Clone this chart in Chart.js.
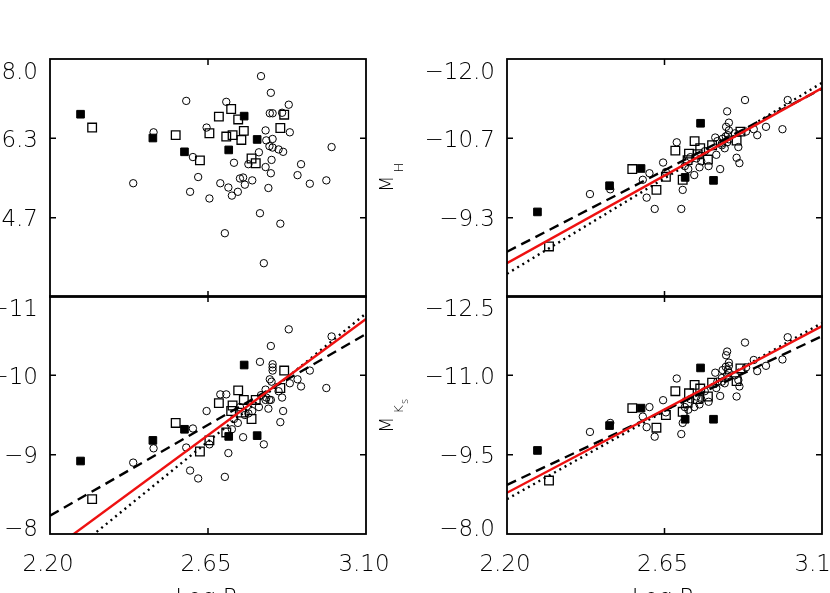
<!DOCTYPE html>
<html>
<head>
<meta charset="utf-8">
<script src="https://cdn.jsdelivr.net/npm/chart.js@4"></script>
<style>
  html, body { margin: 0; padding: 0; background: #fff; }
  #wrap { position: relative; width: 830px; height: 593px; overflow: hidden; background: #fff; }
  #wrap canvas { position: absolute; left: 0; top: 0; }
</style>
</head>
<body>
<div id="wrap">
  <canvas id="tl" width="830" height="593"></canvas>
  <canvas id="tr" width="830" height="593"></canvas>
  <canvas id="bl" width="830" height="593"></canvas>
  <canvas id="br" width="830" height="593"></canvas>
</div>
<script>
// star data: log P, marker kind (c = open circle, s = open square, f = filled square)
const logP = [
  2.287, 2.320, 2.437, 2.493, 2.495, 2.558, 2.583, 2.588, 2.599, 2.607,
  2.622, 2.627, 2.646, 2.654, 2.654, 2.681, 2.685, 2.698, 2.702, 2.702,
  2.708, 2.709, 2.716, 2.718, 2.720, 2.724, 2.735, 2.736, 2.741, 2.745,
  2.750, 2.752, 2.753, 2.755, 2.765, 2.774, 2.776, 2.786, 2.790, 2.795,
  2.798, 2.801, 2.809, 2.814, 2.814, 2.816, 2.822, 2.825, 2.826, 2.829,
  2.829, 2.831, 2.834, 2.834, 2.834, 2.851, 2.856, 2.856, 2.861, 2.864,
  2.867, 2.880, 2.883, 2.905, 2.915, 2.940, 2.987, 3.002
];
const kind = [
  'f','s','c','f','c','s','f','c','c','c',
  'c','s','c','s','c','s','c','c','s','c',
  'c','f','s','c','s','c','c','s','c','s',
  'c','s','f','c','c','s','c','s','f','c',
  'c','c','c','c','c','c','c','c','c','c',
  'c','c','c','c','c','c','s','c','c','c',
  's','c','c','c','c','c','c','c'
];
// top-left panel values
const tlY = [
  6.84, 6.56, 5.39, 6.34, 6.46, 6.40, 6.05, 7.12, 5.21, 5.94,
  5.52, 5.87, 6.56, 6.44, 5.07, 6.79, 5.39, 4.34, 6.37, 7.10,
  5.30, 6.09, 6.95, 5.13, 6.40, 5.82, 5.21, 6.73, 5.49, 6.30,
  5.51, 6.49, 6.80, 5.36, 5.79, 5.91, 5.45, 5.81, 6.31, 6.04,
  4.76, 7.64, 3.71, 6.50, 5.73, 6.29, 5.29, 6.17, 6.86, 7.29,
  5.60, 5.88, 6.86, 6.32, 6.14, 6.10, 6.55, 4.54, 6.87, 6.05,
  6.83, 7.04, 6.46, 5.56, 5.79, 5.38, 5.45, 6.15
];
// M_H
const mH = [
  -9.43, -8.85, -9.73, -9.87, -9.81, -10.15, -10.16, -9.97, -9.67, -10.08,
  -9.48, -9.80, -10.26, -10.02, -10.10, -10.46, -10.60, -9.48, -9.97, -9.80,
  -10.20, -10.01, -10.30, -10.15, -10.41, -10.35, -10.05, -10.62, -10.33, -10.40,
  -10.18, -10.50, -10.92, -10.28, -10.45, -10.31, -10.20, -10.55, -9.96, -10.68,
  -10.39, -10.62, -10.15, -10.58, -10.55, -10.66, -10.50, -10.70, -10.86, -11.12,
  -10.60, -10.72, -10.93, -10.80, -10.65, -10.75, -10.63, -10.34, -10.52, -10.25,
  -10.78, -11.31, -10.78, -10.82, -10.72, -10.86, -10.82, -11.31
];
// bottom-left panel values
const blY = [
  -8.92, -8.44, -8.90, -9.18, -9.08, -9.40, -9.32, -9.09, -8.80, -9.33,
  -8.70, -9.04, -9.55, -9.18, -9.13, -9.65, -9.76, -8.72, -9.28, -9.76,
  -9.02, -9.23, -9.55, -9.32, -9.62, -9.45, -9.40, -9.81, -9.60, -9.53,
  -9.22, -9.69, -10.13, -9.50, -9.52, -9.45, -9.55, -9.69, -9.24, -9.60,
  -10.17, -9.75, -9.13, -9.82, -9.69, -9.72, -9.58, -9.69, -9.95, -10.37,
  -9.69, -9.92, -10.14, -10.10, -10.06, -9.80, -9.84, -9.41, -9.72, -9.55,
  -10.06, -10.58, -9.90, -9.95, -9.86, -10.06, -9.84, -10.49
];
// M_Ks
const mKs = [
  -9.58, -9.01, -9.93, -10.05, -10.10, -10.38, -10.38, -10.22, -10.02, -10.40,
  -9.84, -10.01, -10.53, -10.25, -10.30, -10.70, -10.94, -9.89, -10.31, -10.10,
  -10.40, -10.17, -10.48, -10.35, -10.66, -10.55, -10.40, -10.82, -10.60, -10.55,
  -10.45, -10.75, -11.14, -10.55, -10.70, -10.60, -10.50, -10.86, -10.17, -11.05,
  -10.76, -10.88, -10.61, -10.95, -10.88, -11.10, -10.85, -11.16, -11.38, -11.45,
  -11.00, -11.10, -11.24, -11.18, -11.05, -11.00, -10.89, -10.60, -10.91, -10.79,
  -11.13, -11.62, -11.15, -11.29, -11.08, -11.18, -11.30, -11.72
];

// fit lines, values at the two ends of the log P range
const fitX = [2.20, 3.10];
const hRed = [-8.57, -11.51], hDash = [-8.76, -11.50], hDot = [-8.39, -11.60];
const jRed = [-7.78, -10.71], jDash = [-8.23, -10.52], jDot = [-7.55, -10.78];
const kRed = [-8.78, -11.93], kDash = [-8.93, -11.74], kDot = [-8.66, -11.99];

// axis ticks
const xTicks = [2.20, 2.65, 3.10];
const xLabels = ['2.20', '2.65', '3.10'];
const tlTicks = [8.0, 6.333, 4.667, 3.0];
const tlLabels = ['8.0', '6.3', '4.7', ''];
const hTicks = [-12.0, -10.667, -9.333, -8.0];
const hLabels = ['\u221212.0', '\u221210.7', '\u22129.3', ''];
const blTicks = [-11, -10, -9, -8];
const blLabels = ['\u221211', '\u221210', '\u22129', '\u22128'];
const kTicks = [-12.5, -11.0, -9.5, -8.0];
const kLabels = ['\u221212.5', '\u221211.0', '\u22129.5', '\u22128.0'];

const FONT = '"DejaVu Sans", sans-serif';

function pts(ys, k) {
  const out = [];
  logP.forEach((x, i) => { if (kind[i] === k) out.push({ x: x, y: ys[i] }); });
  return out;
}

function fitLine(ys, color, dash, order) {
  return {
    type: 'line',
    data: fitX.map((x, i) => ({ x: x, y: ys[i] })),
    borderColor: color,
    borderWidth: 2.4,
    borderDash: dash,
    pointRadius: 0,
    fill: false,
    order: order
  };
}

// frame, inward ticks, tick labels and axis titles
const deco = {
  id: 'deco',
  afterDatasetsDraw(chart, args, o) {
    const ctx = chart.ctx;
    const a = chart.chartArea;
    const xs = chart.scales.x, ys = chart.scales.y;
    ctx.save();
    ctx.strokeStyle = '#000';
    ctx.lineWidth = 1.8;
    ctx.strokeRect(a.left, a.top, a.right - a.left, a.bottom - a.top);

    ctx.lineWidth = 1.5;
    ctx.beginPath();
    xTicks.forEach(v => {
      const px = xs.getPixelForValue(v);
      if (px <= a.left + 1 || px >= a.right - 1) return;
      ctx.moveTo(px, a.top); ctx.lineTo(px, a.top + 6);
      ctx.moveTo(px, a.bottom); ctx.lineTo(px, a.bottom - 6);
    });
    o.yTicks.forEach(v => {
      const py = ys.getPixelForValue(v);
      if (py <= a.top + 1 || py >= a.bottom - 1) return;
      ctx.moveTo(a.left, py); ctx.lineTo(a.left + 6, py);
      ctx.moveTo(a.right, py); ctx.lineTo(a.right - 6, py);
    });
    ctx.stroke();

    ctx.fillStyle = '#000';
    ctx.font = '200 23px ' + FONT;
    ctx.textAlign = 'right';
    ctx.textBaseline = 'alphabetic';
    const n = o.yTicks.length;
    o.yTicks.forEach((v, i) => {
      if (!o.yLabels[i]) return;
      let py = ys.getPixelForValue(v) + 8.5;
      if (i === 0) py += 11;
      if (i === n - 1) py -= 7;
      ctx.fillText(o.yLabels[i], a.left - 12, py);
    });

    if (o.xLabels) {
      ctx.textAlign = 'center';
      xTicks.forEach((v, i) => {
        ctx.fillText(xLabels[i], xs.getPixelForValue(v) - 2, a.bottom + 37);
      });
      ctx.fillText('Log P', (a.left + a.right) / 2 - 2, a.bottom + 71);
    }

    if (o.yTitle) {
      ctx.translate(o.yTitle.x, o.yTitle.y);
      ctx.rotate(-Math.PI / 2);
      ctx.textAlign = 'left';
      ctx.font = '200 19px ' + FONT;
      ctx.fillText('M', 0, 0);
      let w = ctx.measureText('M').width + 3;
      ctx.font = '200 13px ' + FONT;
      ctx.fillText(o.yTitle.sub, w, 10);
      if (o.yTitle.sub2) {
        w += ctx.measureText(o.yTitle.sub).width + 1;
        ctx.font = '200 10px ' + FONT;
        ctx.fillText(o.yTitle.sub2, w, 15);
      }
    }
    ctx.restore();
  }
};

function makePanel(id, pad, ys, yMin, yMax, reverse, lines, decoOpts) {
  const datasets = [
    {
      data: pts(ys, 'c'), pointStyle: 'circle', pointRadius: 3.7,
      borderColor: '#000', borderWidth: 1, backgroundColor: 'rgba(0,0,0,0)', order: 5
    },
    {
      data: pts(ys, 's'), pointStyle: 'rect', pointRadius: 6.1,
      borderColor: '#000', borderWidth: 1.3, backgroundColor: 'rgba(0,0,0,0)', order: 4
    },
    {
      data: pts(ys, 'f'), pointStyle: 'rect', pointRadius: 5.4,
      borderColor: '#000', borderWidth: 1, backgroundColor: '#000', order: 3
    }
  ];
  if (lines) {
    datasets.push(fitLine(lines[0], '#000', [10, 6], 2));
    datasets.push(fitLine(lines[1], '#000', [2, 4], 1));
    datasets.push(fitLine(lines[2], '#ee1111', [], 0));
  }
  return new Chart(document.getElementById(id), {
    type: 'scatter',
    data: { datasets: datasets },
    options: {
      responsive: false,
      animation: false,
      events: [],
      layout: { padding: pad },
      plugins: { legend: { display: false }, tooltip: { enabled: false }, deco: decoOpts },
      scales: {
        x: {
          type: 'linear', min: 2.20, max: 3.10,
          grid: { display: false }, border: { display: false },
          ticks: { display: false },
          afterFit: s => { s.height = 0; }
        },
        y: {
          type: 'linear', min: yMin, max: yMax, reverse: reverse,
          grid: { display: false }, border: { display: false },
          ticks: { display: false },
          afterFit: s => { s.width = 0; }
        }
      }
    },
    plugins: [deco]
  });
}

makePanel('tl', { left: 50, top: 59, right: 464, bottom: 296 }, tlY, 3.0, 8.0, false, null,
  { yTicks: tlTicks, yLabels: tlLabels, xLabels: false });
makePanel('tr', { left: 507, top: 59, right: 8, bottom: 296 }, mH, -12.0, -8.0, true,
  [hDash, hDot, hRed],
  { yTicks: hTicks, yLabels: hLabels, xLabels: false, yTitle: { x: 393, y: 192, sub: 'H' } });
makePanel('bl', { left: 50, top: 296, right: 464, bottom: 59 }, blY, -11, -8, true,
  [jDash, jDot, jRed],
  { yTicks: blTicks, yLabels: blLabels, xLabels: true });
makePanel('br', { left: 507, top: 296, right: 8, bottom: 59 }, mKs, -12.5, -8.0, true,
  [kDash, kDot, kRed],
  { yTicks: kTicks, yLabels: kLabels, xLabels: true, yTitle: { x: 393, y: 433, sub: 'K', sub2: 's' } });
</script>
</body>
</html>
